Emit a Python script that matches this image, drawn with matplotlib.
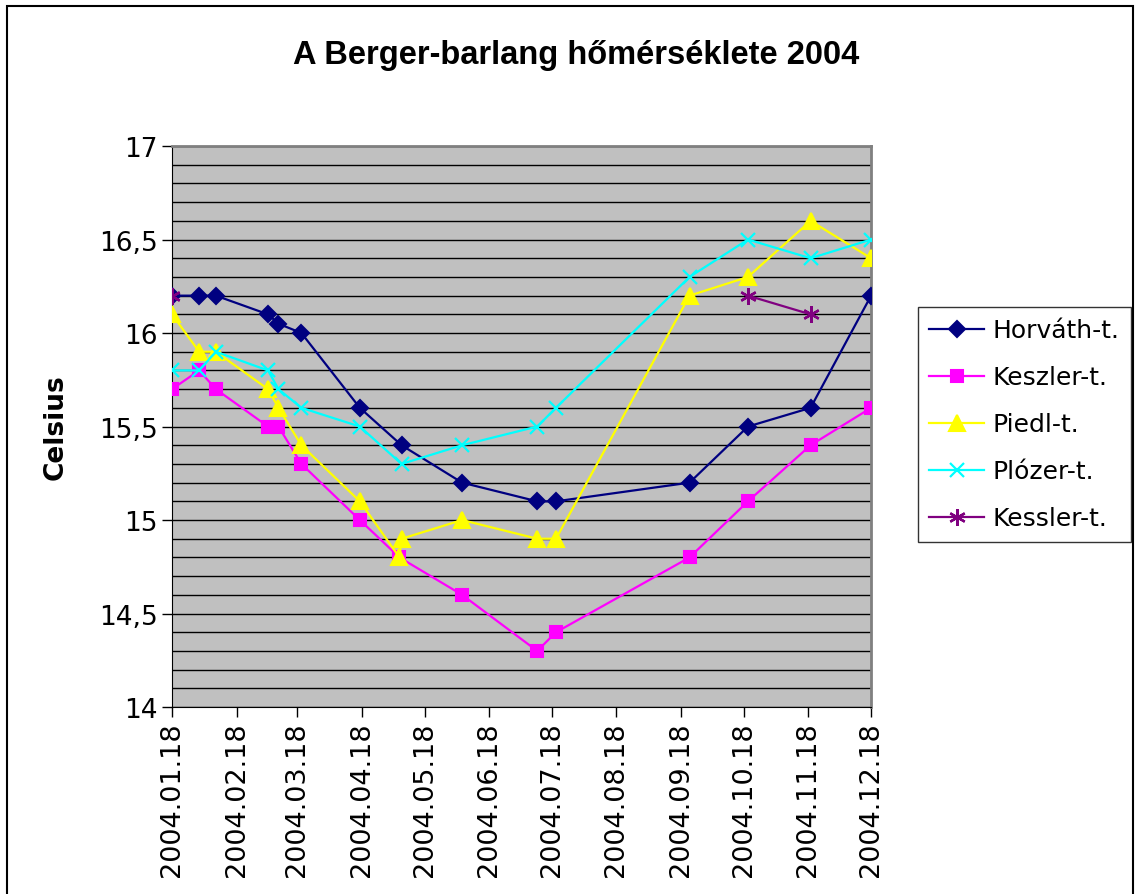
import numpy as np
import pandas as pd
import matplotlib
matplotlib.use("Agg")
import matplotlib.pyplot as plt
import matplotlib.dates as mdates
from matplotlib.patches import Rectangle

# Measurement dates and readings (NaN = no reading)
dates = pd.to_datetime([
    "2004-01-18", "2004-01-31", "2004-02-08", "2004-03-04", "2004-03-09",
    "2004-03-20", "2004-04-17", "2004-05-06", "2004-05-07", "2004-06-05",
    "2004-07-11", "2004-07-20", "2004-09-22", "2004-10-20", "2004-11-19",
    "2004-12-18",
])
nan = np.nan
horvath = [16.2, 16.2, 16.2, 16.1, 16.05, 16.0, 15.6, nan, 15.4, 15.2,
           15.1, 15.1, 15.2, 15.5, 15.6, 16.2]
keszler = [15.7, 15.8, 15.7, 15.5, 15.5, 15.3, 15.0, 14.8, nan, 14.6,
           14.3, 14.4, 14.8, 15.1, 15.4, 15.6]
piedl = [16.1, 15.9, 15.9, 15.7, 15.6, 15.4, 15.1, 14.8, 14.9, 15.0,
         14.9, 14.9, 16.2, 16.3, 16.6, 16.4]
plozer = [15.8, 15.8, 15.9, 15.8, 15.7, 15.6, 15.5, nan, 15.3, 15.4,
          15.5, 15.6, 16.3, 16.5, 16.4, 16.5]
kessler = [16.2, nan, nan, nan, nan, nan, nan, nan, nan, nan,
           nan, nan, nan, 16.2, 16.1, nan]

tick_dates = pd.date_range("2004-01-18", periods=12, freq=pd.DateOffset(months=1))

plt.rcParams['font.family'] = ['DejaVu Sans']

fig = plt.figure(figsize=(11.4, 8.95), dpi=100)
ax = fig.add_axes([0.1509, 0.2089, 0.6132, 0.6268])
ax.set_facecolor("#C0C0C0")


def draw(vals, color, marker, label, ms, mew=1.5):
    # skip missing readings, connect the rest
    s = pd.Series(vals, index=dates).dropna()
    ax.plot(s.index, s.values, color=color, lw=1.6, marker=marker,
            ms=ms, mec=color, mfc=color, mew=mew, label=label, zorder=3)


draw(horvath, "#000080", "D", "Horváth-t.", 8)
draw(keszler, "#FF00FF", "s", "Keszler-t.", 9)
draw(piedl, "#FFFF00", "^", "Piedl-t.", 11)
draw(plozer, "#00FFFF", "x", "Plózer-t.", 10, mew=1.6)

# Kessler: lone first point, then a connected pair
ks = pd.Series(kessler, index=dates).dropna()
ax.plot(ks.index[:1], ks.values[:1], color="#800080", lw=0, marker=(6, 2, 0),
        ms=12, mew=1.7, mec="#800080", zorder=4)
ax.plot(ks.index[1:], ks.values[1:], color="#800080", lw=1.6, marker=(6, 2, 0),
        ms=12, mew=1.7, mec="#800080", label="Kessler-t.", zorder=4)

ax.set_ylim(14, 17)
ax.set_xlim(tick_dates[0], tick_dates[-1])
ax.set_yticks(np.arange(14, 17.01, 0.5))
ax.set_yticks(np.arange(14, 17.01, 0.1), minor=True)
ax.set_yticklabels([f"{v:g}".replace(".", ",") for v in np.arange(14, 17.01, 0.5)])
ax.grid(True, axis="y", which="both", color="black", lw=1.0)
ax.set_axisbelow(True)
ax.tick_params(axis="y", which="minor", length=0)
ax.tick_params(axis="y", which="major", labelsize=19, length=7, width=1, direction="out")

ax.set_xticks(tick_dates)
ax.xaxis.set_major_formatter(mdates.DateFormatter("%Y.%m.%d"))
ax.tick_params(axis="x", labelsize=19.5, length=7, width=1, direction="out", rotation=90)

for side in ["top", "right"]:
    ax.spines[side].set_color("#808080")
    ax.spines[side].set_linewidth(2)
ax.spines["left"].set_color("black")
ax.spines["bottom"].set_color("black")

ax.set_ylabel("Celsius", fontsize=19, fontweight="bold", labelpad=22)

fig.text(0.505, 0.938, "A Berger-barlang hőmérséklete 2004", ha="center", va="center",
         fontsize=23.5, fontweight="bold", family=["Liberation Sans Narrow", "Liberation Sans", "DejaVu Sans"])

handles, labels = ax.get_legend_handles_labels()
leg = fig.legend(handles, labels, loc="upper left",
                 bbox_to_anchor=(918 / 1140, 1 - 308 / 895),
                 fontsize=18, frameon=True, fancybox=False, edgecolor="black",
                 handlelength=2.2, labelspacing=0.92, borderaxespad=0,
                 borderpad=0.45, handletextpad=0.35)
leg.get_frame().set_linewidth(1.0)

fig.patches.append(Rectangle((0.006, -0.02), 0.988, 1.012, transform=fig.transFigure,
                             fill=False, edgecolor="black", lw=1.5))

fig.savefig("out.png", dpi=100, facecolor="white")
